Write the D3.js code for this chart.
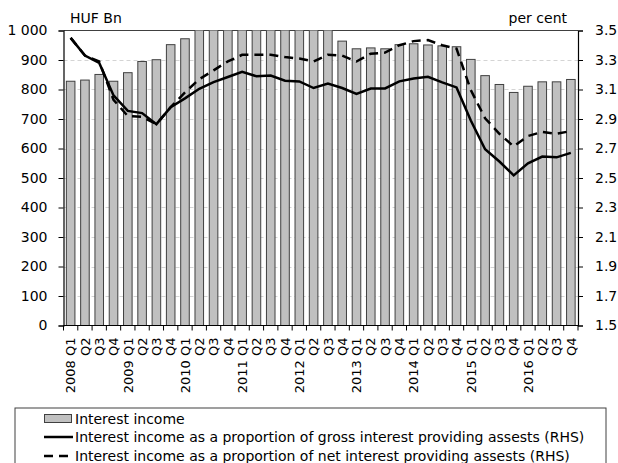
<!DOCTYPE html>
<html>
<head>
<meta charset="utf-8">
<script src="https://cdn.jsdelivr.net/npm/d3@7"></script>
<style>
  html, body { margin: 0; padding: 0; background: #fff; }
  svg { display: block; font-family: "DejaVu Sans", sans-serif; }
</style>
</head>
<body>
<svg id="chart" width="618" height="463"></svg>
<script>
// ---- Data ----
const years = ["2008","2009","2010","2011","2012","2013","2014","2015","2016"];
const quarters = ["Q1","Q2","Q3","Q4"];
const categories = years.flatMap(y => quarters.map(q => y + " " + q));

// Interest income, HUF Bn (bars above 1 000 are cut off in the original)
const interestIncome = [
  828, 832, 851, 828,
  857, 895, 901, 952,
  972, 1020, 1050, 1070,
  1080, 1075, 1065, 1055,
  1045, 1035, 1015, 964,
  938, 941, 938, 952,
  955, 951, 948, 945,
  902, 847, 817, 790,
  811, 826, 826, 834
];

// Interest income as a proportion of gross interest providing assets (RHS, per cent)
const grossShare = [
  3.45, 3.33, 3.28, 3.06,
  2.955, 2.94, 2.865, 2.98,
  3.04, 3.105, 3.15, 3.185,
  3.22, 3.19, 3.195, 3.16,
  3.155, 3.11, 3.14, 3.11,
  3.07, 3.107, 3.107, 3.155,
  3.175, 3.186, 3.148, 3.114,
  2.89, 2.695, 2.612, 2.518,
  2.60, 2.645, 2.64, 2.67
];

// Interest income as a proportion of net interest providing assets (RHS, per cent)
const netShare = [
  3.45, 3.33, 3.29, 3.03,
  2.92, 2.915, 2.865, 2.98,
  3.08, 3.17, 3.23, 3.29,
  3.335, 3.335, 3.336, 3.32,
  3.31, 3.29, 3.336, 3.33,
  3.29, 3.343, 3.35, 3.40,
  3.428, 3.435, 3.40, 3.377,
  3.096, 2.905, 2.80, 2.714,
  2.785, 2.812, 2.80, 2.818
];

const leftTicks = [0,100,200,300,400,500,600,700,800,900,1000];
const rightTicks = [1.5,1.7,1.9,2.1,2.3,2.5,2.7,2.9,3.1,3.3,3.5];
const leftUnit = "HUF Bn";
const rightUnit = "per cent";
const legendLabels = [
  "Interest income",
  "Interest income as a proportion of gross interest providing assests (RHS)",
  "Interest income as a proportion of net interest providing assests (RHS)"
];

// ---- Layout ----
const svg = d3.select("#chart");
const m = { left: 63.5, right: 578, top: 30.5, bottom: 325.5 };

const x = d3.scaleBand().domain(categories).range([m.left, m.right]).paddingInner(0.4).paddingOuter(0.2);
const xb = d3.scaleBand().domain(categories).range([m.left, m.right]);
const yL = d3.scaleLinear().domain([0, 1000]).range([m.bottom, m.top]);
const yR = d3.scaleLinear().domain([1.5, 3.5]).range([m.bottom, m.top]);

const fmtL = d3.formatLocale({decimal: ".", thousands: " ", grouping: [3], currency: ["", ""]}).format(",");

// clip
svg.append("defs").append("clipPath").attr("id", "plotclip")
  .append("rect").attr("x", m.left).attr("y", m.top)
  .attr("width", m.right - m.left).attr("height", m.bottom - m.top);

// gridlines
svg.append("g").selectAll("line").data(leftTicks.filter(d => d > 0 && d < 1000)).join("line")
  .attr("x1", m.left).attr("x2", m.right)
  .attr("y1", d => Math.round(yL(d)) + 0.5).attr("y2", d => Math.round(yL(d)) + 0.5)
  .attr("stroke", "#d4d4d4").attr("stroke-width", 1).attr("stroke-dasharray", "4,3");

// top border
svg.append("line").attr("x1", m.left).attr("x2", m.right).attr("y1", m.top).attr("y2", m.top)
  .attr("stroke", "#404040").attr("stroke-width", 1);

// bars
svg.append("g").attr("clip-path", "url(#plotclip)").selectAll("rect").data(interestIncome).join("rect")
  .attr("x", (d, i) => x(categories[i]))
  .attr("width", x.bandwidth())
  .attr("y", d => yL(d))
  .attr("height", d => yL(0) - yL(d))
  .attr("fill", "#c0c0c0").attr("stroke", "#404040").attr("stroke-width", 1);

// lines
const lineFor = arr => d3.line()
  .x((d, i) => xb(categories[i]) + xb.bandwidth() / 2)
  .y(d => yR(d))(arr);

svg.append("path").attr("d", lineFor(netShare))
  .attr("fill", "none").attr("stroke", "#000").attr("stroke-width", 2.5)
  .attr("stroke-dasharray", "9,6");
svg.append("path").attr("d", lineFor(grossShare))
  .attr("fill", "none").attr("stroke", "#000").attr("stroke-width", 2.5);

// axes
const axL = svg.append("g").attr("transform", `translate(${m.left},0)`)
  .call(d3.axisLeft(yL).tickValues(leftTicks).tickFormat(fmtL).tickSize(5).tickPadding(11));
const axR = svg.append("g").attr("transform", `translate(${m.right},0)`)
  .call(d3.axisRight(yR).tickValues(rightTicks).tickFormat(d3.format(".1f")).tickSize(5).tickPadding(12));
[axL, axR].forEach(a => {
  a.select(".domain").attr("stroke", "#000").attr("stroke-width", 1.2);
  a.selectAll(".tick line").attr("stroke", "#000");
  a.selectAll("text").attr("font-size", 14).attr("fill", "#000").attr("font-family", "DejaVu Sans");
});

// x axis
svg.append("line").attr("x1", m.left).attr("x2", m.right).attr("y1", m.bottom).attr("y2", m.bottom)
  .attr("stroke", "#000").attr("stroke-width", 1.2);
const bounds = categories.map(c => xb(c)).concat([m.right]);
svg.append("g").selectAll("line").data(bounds).join("line")
  .attr("x1", d => d).attr("x2", d => d)
  .attr("y1", m.bottom).attr("y2", m.bottom + 5)
  .attr("stroke", "#000");

svg.append("g").selectAll("text").data(categories).join("text")
  .attr("transform", c => `translate(${xb(c) + xb.bandwidth() / 2},${m.bottom + 12}) rotate(-90)`)
  .attr("text-anchor", "end")
  .attr("dy", "0.36em")
  .attr("font-size", 13)
  .attr("fill", "#000")
  .text(c => c.endsWith("Q1") ? c : c.split(" ")[1]);

// unit labels
svg.append("text").attr("x", 70).attr("y", 23).attr("font-size", 14).attr("fill", "#000").text(leftUnit);
svg.append("text").attr("x", 567).attr("y", 23).attr("text-anchor", "end").attr("font-size", 14).attr("fill", "#000").text(rightUnit);

// legend
const lg = svg.append("g");
lg.append("rect").attr("x", 15).attr("y", 408).attr("width", 591).attr("height", 70)
  .attr("fill", "#fff").attr("stroke", "#404040").attr("stroke-width", 1);
const rowsY = [418.5, 437, 456];
lg.append("rect").attr("x", 44.5).attr("y", rowsY[0] - 4).attr("width", 27).attr("height", 8)
  .attr("fill", "#c0c0c0").attr("stroke", "#404040");
lg.append("line").attr("x1", 44).attr("x2", 73).attr("y1", rowsY[1]).attr("y2", rowsY[1])
  .attr("stroke", "#000").attr("stroke-width", 2.5);
lg.append("line").attr("x1", 44).attr("x2", 73).attr("y1", rowsY[2]).attr("y2", rowsY[2])
  .attr("stroke", "#000").attr("stroke-width", 2.5).attr("stroke-dasharray", "9,6");
lg.selectAll("text.lt").data(legendLabels).join("text").attr("class", "lt")
  .attr("x", 75).attr("y", (d, i) => rowsY[i] + 5)
  .attr("font-size", 14).attr("fill", "#000").text(d => d);
</script>
</body>
</html>
